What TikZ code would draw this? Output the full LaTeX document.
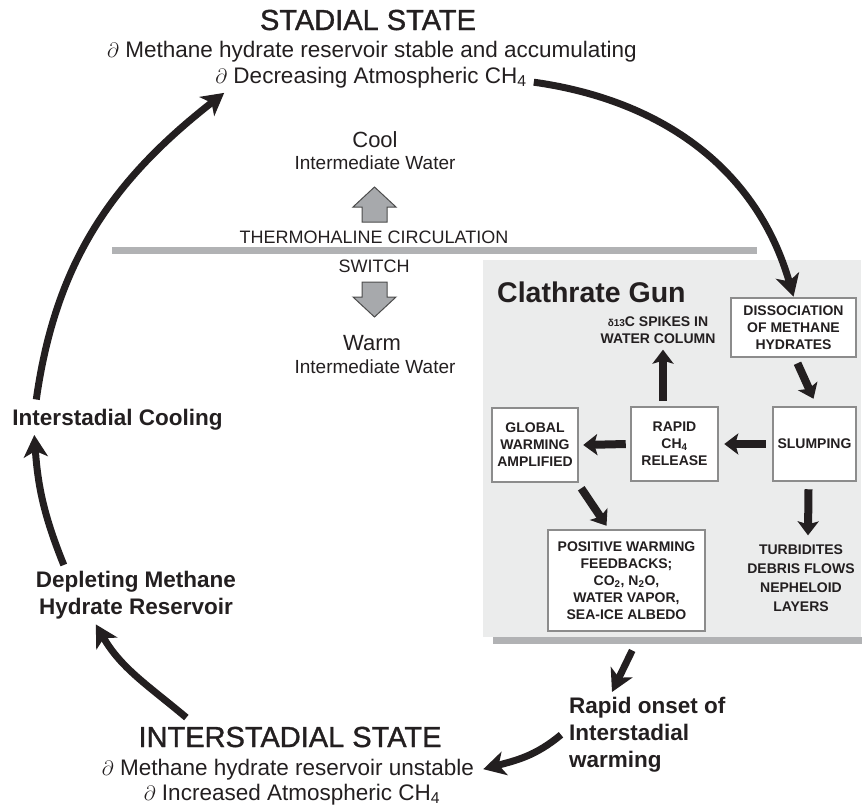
\documentclass[tikz,border=0pt]{standalone}
\usepackage{fontspec}
\setmainfont{Liberation Sans}
\newfontfamily\statefam[FakeBold=1.2]{Liberation Sans}
\usetikzlibrary{arrows.meta,positioning}

\definecolor{inkblack}{HTML}{231F20}
\definecolor{panelgray}{HTML}{EBECEC}
\definecolor{bargray}{HTML}{B1B2B4}
\definecolor{boxgray}{HTML}{8C8C8C}
\definecolor{blockgray}{HTML}{A7A9AC}

\newcommand\statefont{\statefam\fontsize{29}{34}\selectfont}
\newcommand\notefont{\fontsize{22.5}{27}\selectfont}
\newcommand\labelfont{\fontsize{22.5}{27}\selectfont\bfseries}
\newcommand\boxfont{\fontsize{14}{17}\selectfont\bfseries}

\tikzset{
  txt/.style={inner sep=0pt,text=inkblack},
  statetitle/.style={txt,font=\statefont,anchor=base},
  stateline/.style={txt,font=\notefont,anchor=base},
  cyclelabel/.style={txt,font=\labelfont,align=center},
  gunbox/.style={draw=boxgray,line width=2.5pt,fill=white,align=center,font=\boxfont,text=inkblack,inner sep=0pt},
  guntext/.style={txt,font=\boxfont,align=center},
  bigarrow/.style={draw=inkblack,line width=7pt,-{Stealth[length=22pt,width=24pt,inset=6pt]}},
  gunarrow/.style={draw=inkblack,line width=8pt,-{Stealth[length=14pt,width=21pt,inset=3pt]}},
  blockarrow/.style={draw=black!70,line width=1pt,fill=blockgray},
}

\begin{document}
\begin{tikzpicture}[x=1pt,y=1pt]
\useasboundingbox (0,0) rectangle (862,-807);

% clathrate gun panel
\fill[bargray] (493,-637) rectangle (862,-644);
\node[fill=panelgray,minimum width=378,minimum height=377,inner sep=0pt,anchor=north west] (gun) at (483,-260) {};
\node[txt,font=\fontsize{28.5}{33}\selectfont\bfseries,anchor=west] (gunname) at (497,-292) {Clathrate Gun};

% thermohaline switch
\fill[bargray] (112,-247) rectangle (757,-254);
\node[txt,font=\fontsize{18}{22}\selectfont] (thc) at (374,-237) {THERMOHALINE CIRCULATION};
\node[txt,font=\fontsize{18}{22}\selectfont] (switch) at (374,-266) {SWITCH};
\node[txt,font=\fontsize{22}{26}\selectfont] (cool) at (375,-140) {Cool};
\node[txt,font=\fontsize{19}{23}\selectfont] (coolwater) at (375,-163) {Intermediate Water};
\node[txt,font=\fontsize{22}{26}\selectfont] (warm) at (372,-343) {Warm};
\node[txt,font=\fontsize{19}{23}\selectfont] (warmwater) at (375,-367) {Intermediate Water};
\draw[blockarrow] (362,-222) -- (362,-207) -- (353,-207) -- (374.5,-187) -- (396,-207) -- (387,-207) -- (387,-222) -- cycle;
\draw[blockarrow] (362,-282) -- (387,-282) -- (387,-297) -- (396,-297) -- (374.5,-317) -- (353,-297) -- (362,-297) -- cycle;

% states
\node[statetitle] (stadial) at (368,-30) {STADIAL STATE};
\node[stateline] (stadialA) at (372,-57) {$\partial$ Methane hydrate reservoir stable and accumulating};
\node[stateline] (stadialB) at (371,-83) {$\partial$ Decreasing Atmospheric CH\textsubscript{4}};
\node[statetitle] (intstate) at (290,-747) {INTERSTADIAL STATE};
\node[stateline] (intA) at (288,-775) {$\partial$ Methane hydrate reservoir unstable};
\node[stateline] (intB) at (292,-800) {$\partial$ Increased Atmospheric CH\textsubscript{4}};

% cycle labels
\node[cyclelabel,anchor=base] (cooling) at (117.5,-425) {Interstadial Cooling};
\node[cyclelabel,anchor=north] (depleting) at (136,-571) {Depleting Methane\\Hydrate Reservoir};
\node[cyclelabel,align=left,anchor=north west] (onset) at (569,-697) {Rapid onset of\\Interstadial\\warming};

% gun boxes
\node[gunbox,minimum width=125,minimum height=59] (dissoc) at (793.5,-327.5) {DISSOCIATION\\OF METHANE\\HYDRATES};
\node[gunbox,minimum width=83,minimum height=74] (slump) at (814.5,-444) {SLUMPING};
\node[gunbox,minimum width=87,minimum height=74] (rapid) at (674.5,-444) {RAPID\\CH\textsubscript{4}\\RELEASE};
\node[gunbox,minimum width=86,minimum height=74] (global) at (535,-445) {GLOBAL\\WARMING\\AMPLIFIED};
\node[gunbox,minimum width=157,minimum height=101] (feedback) at (626.5,-580.5) {POSITIVE WARMING\\FEEDBACKS;\\CO\textsubscript{2}, N\textsubscript{2}O,\\WATER VAPOR,\\SEA-ICE ALBEDO};
\node[guntext] (spikes) at (658,-330) {{\fontsize{10}{10}\selectfont δ13}C SPIKES IN\\WATER COLUMN};
\node[guntext,font=\fontsize{14}{19}\selectfont\bfseries] (turbid) at (801,-578) {TURBIDITES\\DEBRIS FLOWS\\NEPHELOID\\LAYERS};

% gun arrows
\draw[gunarrow] ([xshift=4,yshift=-5]dissoc.south) -- ([xshift=-1,yshift=7]slump.north);
\draw[gunarrow] ([xshift=-6]slump.west) -- ([xshift=5]rapid.east);
\draw[gunarrow] ([xshift=-4]rapid.west) -- ([xshift=4]global.east);
\draw[gunarrow] ([xshift=-11.5,yshift=5]rapid.north) -- ([xshift=5,yshift=-6]spikes.south);
\draw[gunarrow] ([xshift=2,yshift=-5]global.south east) -- ([xshift=-20,yshift=3]feedback.north);
\draw[gunarrow] ([xshift=-6,yshift=-7]slump.south) -- ([xshift=7,yshift=9]turbid.north);

% cycle arrows
\draw[bigarrow] ([xshift=7,yshift=-5]stadialB.east) to[out=-8,in=106] (dissoc.north);
\draw[bigarrow] ([xshift=24,yshift=9]cooling.north west) to[out=82,in=-142] ([xshift=9,yshift=-5]stadialB.south west);
\draw[bigarrow] ([xshift=28,yshift=6]depleting.north west) to[out=112,in=-86] ([xshift=22,yshift=-5]cooling.south west);
\draw[bigarrow] ([xshift=48,yshift=9]intstate.north west) to[out=140,in=-60] ([xshift=60,yshift=-5]depleting.south west);
\draw[bigarrow] ([xshift=-8]onset.west) to[out=-140,in=15] ([xshift=9]intA.east);
\draw[bigarrow] ([xshift=-40,yshift=-13]gun.south) -- ([xshift=43,yshift=5]onset.north west);
\end{tikzpicture}
\end{document}
